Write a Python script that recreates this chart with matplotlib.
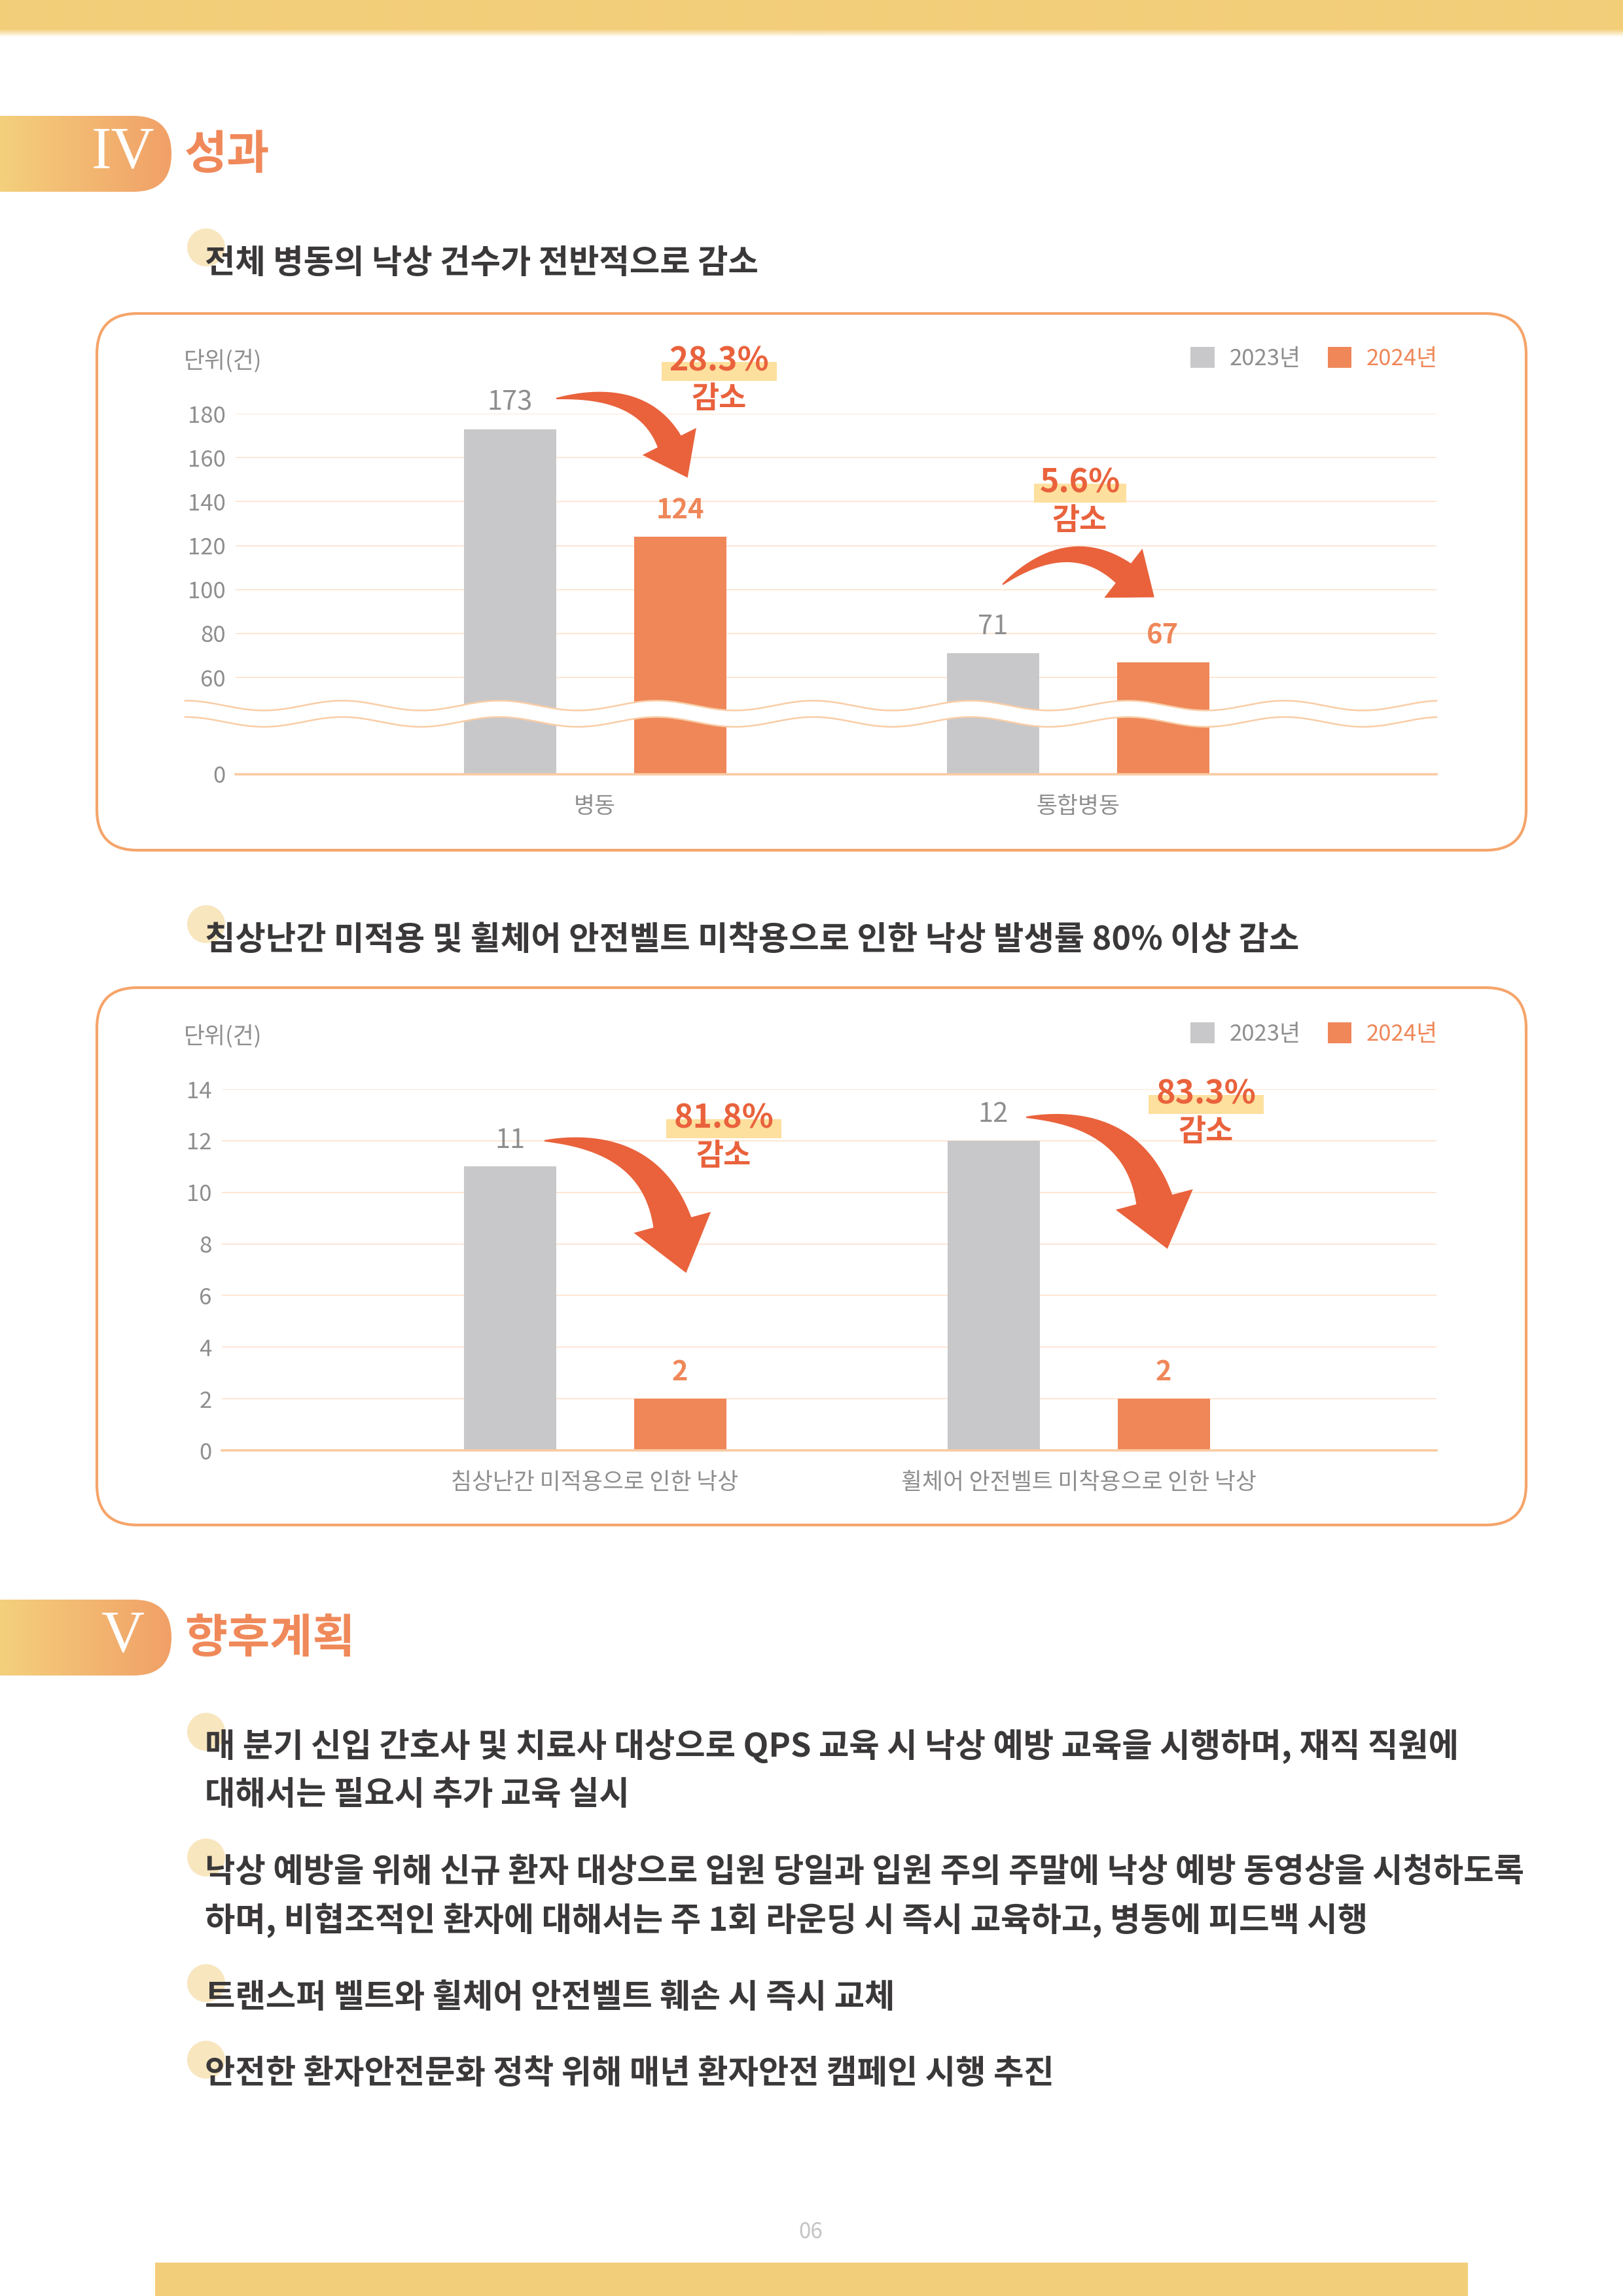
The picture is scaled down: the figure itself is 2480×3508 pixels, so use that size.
import numpy as np
import matplotlib
matplotlib.use("Agg")
import matplotlib.pyplot as plt
from matplotlib.patches import FancyBboxPatch, Rectangle, Polygon, Circle
from matplotlib.colors import to_rgb

plt.rcParams['font.family'] = ['Noto Sans CJK KR', 'DejaVu Sans']

# Page size (pixels at dpi 100)
W, H = 2480, 3508
DPI = 100

# --- chart data ---
years = ['2023년', '2024년']

falls_cats = ['병동', '통합병동']
falls_2023 = [173, 71]
falls_2024 = [124, 67]
falls_yticks = [0, 60, 80, 100, 120, 140, 160, 180]

belt_cats = ['침상난간 미적용으로 인한 낙상', '휠체어 안전벨트 미착용으로 인한 낙상']
belt_2023 = [11, 12]
belt_2024 = [2, 2]
belt_yticks = [0, 2, 4, 6, 8, 10, 12, 14]

# --- page text ---
section_4 = ('IV', '성과')
section_5 = ('V', '향후계획')
subtitle_1 = '전체 병동의 낙상 건수가 전반적으로 감소'
subtitle_2 = '침상난간 미적용 및 휠체어 안전벨트 미착용으로 인한 낙상 발생률 80% 이상 감소'
unit_label = '단위(건)'
plan_items = [
    ['매 분기 신입 간호사 및 치료사 대상으로 QPS 교육 시 낙상 예방 교육을 시행하며, 재직 직원에',
     '대해서는 필요시 추가 교육 실시'],
    ['낙상 예방을 위해 신규 환자 대상으로 입원 당일과 입원 주의 주말에 낙상 예방 동영상을 시청하도록',
     '하며, 비협조적인 환자에 대해서는 주 1회 라운딩 시 즉시 교육하고, 병동에 피드백 시행'],
    ['트랜스퍼 벨트와 휠체어 안전벨트 훼손 시 즉시 교체'],
    ['안전한 환자안전문화 정착 위해 매년 환자안전 캠페인 시행 추진'],
]
page_no = '06'

# --- colours ---
BAND = '#F3CE7A'
BADGE_L, BADGE_R = '#F4D07C', '#F1A067'
HEAD_TXT = '#F0895A'
DARK = '#3A3838'
GRAY_TXT = '#8E8E8E'
GRAY_BAR = '#C8C8CA'
ORANGE = '#EF8759'
ARROW = '#E9623C'
HILITE = '#FDDF9E'
GRID = '#FDE6D4'
BASE = '#F9CBA3'
BOX = '#F5A46A'
BULLET = '#F8E6BF'
WAVE = '#F9CDA6'

TEXT_SIZE = 36.3
HEAD_SIZE = 51
TICK_SIZE = 25

# break in the first chart's y axis: 0..60 squeezed into BREAK_K units
BREAK_K = 44.0


def fwd(y):
    y = np.asarray(y, dtype=float)
    return np.where(y < 60, y * BREAK_K / 60, BREAK_K + y - 60)


def inv(t):
    t = np.asarray(t, dtype=float)
    return np.where(t < BREAK_K, t * 60 / BREAK_K, t - BREAK_K + 60)


def draw_arrow(ax, p0, c, p2, w_end, head_w, head_len, color):
    """Tapered curved arrow along a quadratic bezier, in page pixels."""
    p0, c, p2 = (np.array(p, float) for p in (p0, c, p2))
    t = np.linspace(0, 1, 400)[:, None]
    pts = (1 - t) ** 2 * p0 + 2 * t * (1 - t) * c + t ** 2 * p2
    seg = np.hypot(*np.diff(pts, axis=0).T)
    s = np.concatenate([[0], np.cumsum(seg)])
    keep = s <= s[-1] - head_len
    shaft = pts[keep]
    tang = np.gradient(shaft, axis=0)
    tang /= np.hypot(tang[:, 0], tang[:, 1])[:, None]
    nrm = np.column_stack([-tang[:, 1], tang[:, 0]])
    frac = s[keep] / s[keep][-1]
    w = 2 + (w_end - 2) * frac ** 0.9
    left = shaft + nrm * w[:, None] / 2
    right = shaft - nrm * w[:, None] / 2
    base = shaft[-1]
    tip = base + tang[-1] * head_len
    head = [base + nrm[-1] * head_w / 2, tip, base - nrm[-1] * head_w / 2]
    poly = np.vstack([left, head, right[::-1]])
    ax.add_patch(Polygon(poly, closed=True, fc=color, ec='none', zorder=4))


def make_chart(fig, rect, group_px, cats, v23, v24, yticks, ylim, broken=False):
    x0, x1, top, bottom = rect
    ax = fig.add_axes([x0 / W, 1 - bottom / H, (x1 - x0) / W, (bottom - top) / H])
    ax.patch.set_alpha(0)
    unit = group_px[1] - group_px[0]
    ax.set_xlim(-(group_px[0] - x0) / unit, 1 + (x1 - group_px[1]) / unit)
    if broken:
        ax.set_yscale('function', functions=(fwd, inv))
    ax.set_ylim(*ylim)

    x = np.arange(len(cats))
    bw = 141 / unit
    off = 130 / unit
    b1 = ax.bar(x - off, v23, bw, color=GRAY_BAR, zorder=2)
    b2 = ax.bar(x + off, v24, bw, color=ORANGE, zorder=2)

    for xi, v in zip(x, v23):
        ax.annotate(str(v), (xi - off, v), xytext=(0, 29), textcoords='offset points',
                    ha='center', va='center', fontsize=30, color=GRAY_TXT)
    for xi, v in zip(x, v24):
        ax.annotate(str(v), (xi + off, v), xytext=(0, 29), textcoords='offset points',
                    ha='center', va='center', fontsize=30, color=ORANGE, fontweight='bold')

    ax.set_yticks(yticks)
    ax.set_yticklabels([str(v) for v in yticks])
    ax.set_xticks(x)
    ax.set_xticklabels(cats)
    ax.tick_params(axis='y', length=0, pad=11, labelsize=TICK_SIZE, labelcolor=GRAY_TXT)
    ax.tick_params(axis='x', length=0, pad=23, labelsize=TICK_SIZE, labelcolor=GRAY_TXT)
    ax.yaxis.grid(True, color=GRID, lw=1.4)
    ax.set_axisbelow(True)
    for side in ('top', 'right', 'left'):
        ax.spines[side].set_visible(False)
    ax.spines['bottom'].set_color(BASE)
    ax.spines['bottom'].set_linewidth(2.6)
    ax.spines['bottom'].set_zorder(3)

    leg_y = top - 84
    leg = ax.legend(handles=[b1, b2], labels=years, loc='center right',
                    bbox_to_anchor=(2197 / W, 1 - leg_y / H), bbox_transform=fig.transFigure,
                    ncol=2, frameon=False, fontsize=TICK_SIZE, handlelength=1.05,
                    handleheight=1.05, handletextpad=0.65, columnspacing=1.2,
                    borderpad=0, borderaxespad=0)
    for txt, col in zip(leg.get_texts(), [GRAY_TXT, ORANGE]):
        txt.set_color(col)
    return ax, leg_y


def pct_label(ax, cx, cy, a, b):
    label = f'{(a - b) / a * 100:.1f}%'
    w = 35 * len(label) + 1
    ax.add_patch(Rectangle((cx - w / 2, cy + 1), w, 29, fc=HILITE, ec='none', zorder=2))
    ax.text(cx, cy, label, ha='center', va='center', fontsize=36, fontweight='bold',
            color=ARROW, zorder=3)
    ax.text(cx, cy + 58, '감소', ha='center', va='center', fontsize=33, fontweight='bold',
            color=ARROW, zorder=3)


fig = plt.figure(figsize=(W / DPI, H / DPI), dpi=DPI)
bg = fig.add_axes([0, 0, 1, 1])
bg.set_zorder(-1)

# top band with a soft fade
band = np.zeros((60, 1, 4))
band[:, :, :3] = to_rgb(BAND)
band[:, 0, 3] = np.clip((56 - np.arange(60)) / 12, 0, 1)
bg.imshow(band, extent=(0, W, 60, 0), aspect='auto', interpolation='bilinear')
# bottom band
bg.add_patch(Rectangle((237, 3457), 2006, 51, fc=BAND, ec='none'))

# section badges with gradient
grad = np.linspace(0, 1, 256)[None, :, None]
grad_img = (1 - grad) * np.array(to_rgb(BADGE_L)) + grad * np.array(to_rgb(BADGE_R))
for top in (177, 2444):
    clip = FancyBboxPatch((-120, top), 382, 116, boxstyle='round,pad=0,rounding_size=58',
                          fc='none', ec='none')
    bg.add_patch(clip)
    im = bg.imshow(grad_img, extent=(0, 262, top + 116, top), aspect='auto')
    im.set_clip_path(clip)

# chart frames
for top, bottom in ((479, 1299), (1509, 2330)):
    bg.add_patch(FancyBboxPatch((148, top), 2184, bottom - top,
                                boxstyle='round,pad=0,rounding_size=62',
                                fc='white', ec=BOX, lw=3))

bg.set_xlim(0, W)
bg.set_ylim(H, 0)
bg.axis('off')

# charts
ax1, leg1_y = make_chart(fig, (360, 2195, 632, 1183), (909, 1647), falls_cats,
                         falls_2023, falls_2024, falls_yticks, (0, 180), broken=True)
ax2, leg2_y = make_chart(fig, (339, 2195, 1664, 2216), (909, 1648), belt_cats,
                         belt_2023, belt_2024, belt_yticks, (0, 14))

fg = fig.add_axes([0, 0, 1, 1])
fg.set_zorder(5)
fg.patch.set_alpha(0)

# axis break waves on chart 1
xs = np.linspace(283, 2195, 800)
ph = 2 * np.pi * (xs - 283) / 240
up = 1078 - 7.5 * np.cos(ph)
lo = 1103 - 7.5 * np.cos(ph)
fg.fill_between(xs, up, lo, color='white', lw=0, zorder=1)
fg.plot(xs, up, color=WAVE, lw=1.8, zorder=1.5)
fg.plot(xs, lo, color=WAVE, lw=1.8, zorder=1.5)

# section headings
for (num, title), cy in ((section_4, 235), (section_5, 2502)):
    fg.text(188, cy, num, family='Liberation Serif', fontsize=66, color='white',
            ha='center', va='center')
    fg.text(282, cy + 2, title, fontsize=HEAD_SIZE, fontweight='bold', color=HEAD_TXT,
            ha='left', va='center')

# subtitles with bullet dots
for txt, cy in ((subtitle_1, 402), (subtitle_2, 1436)):
    bg.add_patch(Circle((315, cy - 24), 29, fc=BULLET, ec='none'))
    fg.text(313, cy, txt, fontsize=TEXT_SIZE, fontweight='bold', color=DARK,
            ha='left', va='center')

# unit labels
for cy in (leg1_y, leg2_y):
    fg.text(281, cy + 3, unit_label, fontsize=TICK_SIZE, color=GRAY_TXT,
            ha='left', va='center')

# percentage call-outs and arrows
pct_label(fg, 1099, 552, falls_2023[0], falls_2024[0])
pct_label(fg, 1650, 738, falls_2023[1], falls_2024[1])
pct_label(fg, 1106, 1709, belt_2023[0], belt_2024[0])
pct_label(fg, 1843, 1672, belt_2023[1], belt_2024[1])

draw_arrow(fg, (850, 609), (1020, 585), (1040, 734), 40, 92, 62, ARROW)
draw_arrow(fg, (1532, 893), (1660, 790), (1758, 919), 38, 95, 60, ARROW)
draw_arrow(fg, (832, 1743), (1036, 1738), (1037, 1947), 60, 122, 80, ARROW)
draw_arrow(fg, (1568, 1707), (1772, 1702), (1773, 1910), 57, 122, 78, ARROW)

# plan bullets
line_y = [[2668, 2742], [2860, 2934], [3052], [3169]]
for lines, ys in zip(plan_items, line_y):
    bg.add_patch(Circle((315, ys[0] - 22), 29, fc=BULLET, ec='none'))
    for txt, cy in zip(lines, ys):
        fg.text(313, cy, txt, fontsize=TEXT_SIZE, fontweight='bold', color=DARK,
                ha='left', va='center')

fg.text(1239, 3410, page_no, fontsize=24, color='#C4C4C4', ha='center', va='center')

fg.set_xlim(0, W)
fg.set_ylim(H, 0)
fg.axis('off')

fig.savefig('out.png', dpi=DPI)
